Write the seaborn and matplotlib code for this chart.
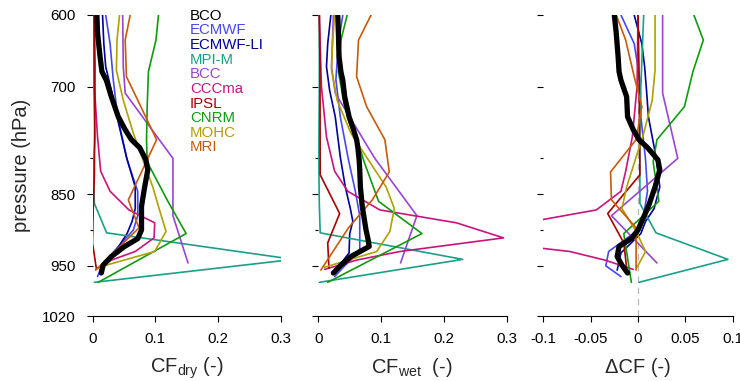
import matplotlib
matplotlib.use("Agg")
import numpy as np
import pandas as pd
import matplotlib.pyplot as plt
import seaborn as sns

# Look: plain white panels, R-like axes
sns.set_style("white")
plt.rcParams['font.family'] = ['Liberation Sans', 'DejaVu Sans']
plt.rcParams['mathtext.default'] = 'regular'
plt.rcParams['axes.unicode_minus'] = False

# ---- data (pressure in hPa, cloud fraction) ----
bco_p = [600, 625, 658, 679, 691, 714, 742, 760, 774, 785, 802, 816, 840, 867, 900, 912, 923, 937, 949, 960]
bco_dry = [0.007, 0.008, 0.012, 0.015, 0.022, 0.030, 0.041, 0.052, 0.062, 0.075, 0.085, 0.088, 0.083, 0.078, 0.078, 0.072, 0.051, 0.030, 0.017, 0.014]
bco_wet = [0.031, 0.032, 0.033, 0.036, 0.039, 0.042, 0.049, 0.056, 0.061, 0.063, 0.065, 0.066, 0.067, 0.070, 0.076, 0.079, 0.081, 0.052, 0.036, 0.024]
bco_dcf = [-0.025, -0.023, -0.021, -0.020, -0.018, -0.012, -0.011, -0.005, 0.001, 0.010, 0.021, 0.023, 0.018, 0.011, 0.000, -0.007, -0.020, -0.022, -0.017, -0.011]

ecmwf_p = [600, 640, 690, 742, 802, 846, 880, 900, 930, 950, 965]
ecmwf_dry = [0.021, 0.028, 0.033, 0.040, 0.055, 0.072, 0.072, 0.065, 0.034, 0.015, 0.008]
ecmwf_wet = [0.039, 0.032, 0.028, 0.035, 0.048, 0.059, 0.066, 0.066, 0.066, 0.042, 0.026]
ecmwf_dcf = [-0.018, -0.004, 0.002, 0.003, 0.008, 0.010, 0.006, 0.000, -0.031, -0.034, -0.018]

ecmwfli_p = [600, 640, 672, 705, 742, 798, 840, 870, 888, 905, 932, 956]
ecmwfli_dry = [0.016, 0.018, 0.021, 0.030, 0.039, 0.054, 0.068, 0.068, 0.063, 0.055, 0.035, 0.012]
ecmwfli_wet = [0.020, 0.015, 0.013, 0.018, 0.027, 0.035, 0.043, 0.051, 0.055, 0.050, 0.049, 0.028]
ecmwfli_dcf = [-0.004, 0.004, 0.007, 0.009, 0.011, 0.019, 0.023, 0.017, 0.008, 0.003, -0.018, -0.022]

mpi_p = [600, 700, 770, 820, 863, 904, 941, 973]
mpi_dry = [0.001, 0.002, 0.004, 0.001, 0.003, 0.0225, 0.32, 0.003]
mpi_wet = [0.0016, 0.0016, 0.001, 0.001, 0.0016, 0.003, 0.230, 0.0016]
mpi_dcf = [0.006, 0.003, 0.002, 0.002, 0.002, 0.019, 0.095, 0.001]

bcc_p = [600, 672, 709, 800, 880, 946]
bcc_dry = [0.048, 0.049, 0.052, 0.128, 0.128, 0.152]
bcc_wet = [0.024, 0.021, 0.027, 0.090, 0.157, 0.131]
bcc_dcf = [0.026, 0.026, 0.026, 0.042, -0.028, 0.020]

cccma_p = [600, 700, 770, 818, 846, 872, 890, 911, 930, 942, 955]
cccma_dry = [0.001, 0.003, 0.008, 0.013, 0.028, 0.058, 0.099, 0.098, 0.068, 0.030, 0.005]
cccma_wet = [0.0016, 0.005, 0.013, 0.026, 0.047, 0.098, 0.220, 0.295, 0.130, 0.061, 0.010]
cccma_dcf = [0.0, -0.001, -0.006, -0.013, -0.018, -0.044, -0.120, -0.197, -0.072, -0.035, -0.005]

ipsl_p = [600, 672, 823, 877, 918, 953]
ipsl_dry = [0.003, 0.004, 0.003, 0.001, 0.000, 0.006]
ipsl_wet = [0.0016, 0.0027, 0.003, 0.034, 0.015, 0.017]
ipsl_dcf = [0.000, 0.001, 0.002, -0.032, -0.015, -0.012]

cnrm_p = [600, 635, 679, 728, 774, 805, 860, 905, 973]
cnrm_dry = [0.105, 0.101, 0.089, 0.087, 0.086, 0.087, 0.120, 0.149, 0.009]
cnrm_wet = [0.046, 0.036, 0.032, 0.042, 0.062, 0.073, 0.096, 0.165, 0.015]
cnrm_dcf = [0.059, 0.069, 0.058, 0.049, 0.020, 0.016, 0.022, -0.015, -0.007]

mohc_p = [600, 635, 677, 719, 765, 840, 870, 902, 930, 952]
mohc_dry = [0.043, 0.039, 0.038, 0.049, 0.065, 0.096, 0.106, 0.117, 0.099, 0.010]
mohc_wet = [0.026, 0.023, 0.021, 0.030, 0.052, 0.108, 0.121, 0.114, 0.093, 0.010]
mohc_dcf = [0.018, 0.018, 0.018, 0.015, 0.006, -0.012, -0.017, -0.002, 0.008, -0.001]

mri_p = [600, 635, 686, 728, 774, 819, 858, 897, 956]
mri_dry = [0.060, 0.052, 0.054, 0.077, 0.102, 0.078, 0.057, 0.074, 0.005]
mri_wet = [0.084, 0.064, 0.061, 0.077, 0.106, 0.113, 0.086, 0.048, 0.004]
mri_dcf = [-0.023, -0.013, -0.004, 0.004, -0.002, -0.029, -0.028, -0.002, -0.002]

model_names = ['BCO', 'ECMWF', 'ECMWF-LI', 'MPI-M', 'BCC', 'CCCma', 'IPSL', 'CNRM', 'MOHC', 'MRI']
model_colors = ['black', '#4848F0', '#00009C', '#1AA08A', '#9A44D0', '#C8147E', '#A80000', '#109A10', '#B0A000', '#C85A0A']

y_major = [600, 700, 850, 950, 1020]
y_minor = [800, 900]
dry_ticks = [0, 0.1, 0.2, 0.3]
dry_ticklabels = ['0', '0.1', '0.2', '0.3']
dcf_ticks = [-0.1, -0.05, 0, 0.05, 0.1]
dcf_ticklabels = ['-0.1', '-0.05', '0', '0.05', '0.1']

# ---- long table for seaborn ----
profiles = [
    ('BCO', bco_p, bco_dry, bco_wet, bco_dcf),
    ('ECMWF', ecmwf_p, ecmwf_dry, ecmwf_wet, ecmwf_dcf),
    ('ECMWF-LI', ecmwfli_p, ecmwfli_dry, ecmwfli_wet, ecmwfli_dcf),
    ('MPI-M', mpi_p, mpi_dry, mpi_wet, mpi_dcf),
    ('BCC', bcc_p, bcc_dry, bcc_wet, bcc_dcf),
    ('CCCma', cccma_p, cccma_dry, cccma_wet, cccma_dcf),
    ('IPSL', ipsl_p, ipsl_dry, ipsl_wet, ipsl_dcf),
    ('CNRM', cnrm_p, cnrm_dry, cnrm_wet, cnrm_dcf),
    ('MOHC', mohc_p, mohc_dry, mohc_wet, mohc_dcf),
    ('MRI', mri_p, mri_dry, mri_wet, mri_dcf),
]
frames = []
for name, p, dry, wet, dcf in profiles:
    frames.append(pd.DataFrame({'model': name, 'p': p, 'dry': dry, 'wet': wet, 'dcf': dcf}))
df = pd.concat(frames, ignore_index=True)
df_long = df.melt(id_vars=['model', 'p'], value_vars=['dry', 'wet', 'dcf'],
                  var_name='panel', value_name='cf')

palette = dict(zip(model_names, model_colors))

# ---- figure, axes placed in pixels like the reference ----
W, H = 740, 381
fig = plt.figure(figsize=(W / 100, H / 100), dpi=100)

def px_axes(x0, x1, y0=15, y1=316):
    return fig.add_axes([x0 / W, (H - y1) / H, (x1 - x0) / W, (y1 - y0) / H])

ax_dry = px_axes(92.5, 281)
ax_wet = px_axes(318.3, 506.7)
ax_dcf = px_axes(543.3, 732.7)

panels = [(ax_dry, 'dry', (0, 0.3), dry_ticks, dry_ticklabels),
          (ax_wet, 'wet', (0, 0.3), dry_ticks, dry_ticklabels),
          (ax_dcf, 'dcf', (-0.1, 0.1), dcf_ticks, dcf_ticklabels)]

for ax, key, xlim, xt, xtl in panels:
    sub = df_long[df_long['panel'] == key]
    if key == 'dcf':
        ax.axvline(0, color='#b8b8b8', lw=0.9, ls=(0, (5, 4)), zorder=1)
    sns.lineplot(data=sub[sub['model'] != 'BCO'], x='cf', y='p', hue='model',
                 hue_order=model_names[1:], palette=palette, sort=False,
                 estimator=None, lw=1.2, legend=False, ax=ax,
                 solid_capstyle='round', solid_joinstyle='round', zorder=2)
    sns.lineplot(data=sub[sub['model'] == 'BCO'], x='cf', y='p', color='black',
                 sort=False, estimator=None, lw=3.8, legend=False, ax=ax,
                 solid_capstyle='round', solid_joinstyle='round', zorder=3)
    ax.set_xlim(*xlim)
    ax.set_ylim(1020, 600)
    ax.set_xlabel('')
    ax.set_ylabel('')
    for s in ['top', 'right', 'left']:
        ax.spines[s].set_visible(False)
    ax.spines['bottom'].set_linewidth(0.8)
    ax.spines['bottom'].set_color('black')
    ax.set_xticks(xt)
    ax.set_xticklabels(xtl)
    ax.set_yticks(y_major)
    ax.set_yticks(y_minor, minor=True)
    ax.tick_params(axis='both', which='both', left=True, bottom=True)
    ax.tick_params(axis='both', which='major', direction='out', length=4.3,
                   width=0.8, color='black', labelsize=10.8, labelcolor='black')
    ax.tick_params(axis='x', which='major', pad=7)
    ax.tick_params(axis='y', which='major', pad=8)
    ax.tick_params(axis='y', which='minor', direction='out', length=2.5,
                   width=0.8, color='black')
    ax.tick_params(axis='x', which='minor', bottom=False)
    if ax is not ax_dry:
        ax.set_yticklabels([])
    else:
        ax.set_yticklabels([str(v) for v in y_major])

# axis titles
fig.text(22 / W, (H - 165) / H, 'pressure (hPa)', rotation=90, ha='center',
         va='center', fontsize=14.5)
fig.text(187 / W, (H - 373) / H, r'CF$_{dry}$ (-)', ha='center', va='baseline', fontsize=14.5)
fig.text(412 / W, (H - 373) / H, r'CF$_{wet}$  (-)', ha='center', va='baseline', fontsize=14.5)
fig.text(638 / W, (H - 373) / H, '\u0394CF (-)', ha='center', va='baseline', fontsize=14.5)

# model list as coloured text
for i, (name, col) in enumerate(zip(model_names, model_colors)):
    fig.text(190 / W, (H - 15.8 - i * 14.63) / H, name, color=col,
             ha='left', va='center', fontsize=10.8)

fig.savefig('out.png', dpi=100)
